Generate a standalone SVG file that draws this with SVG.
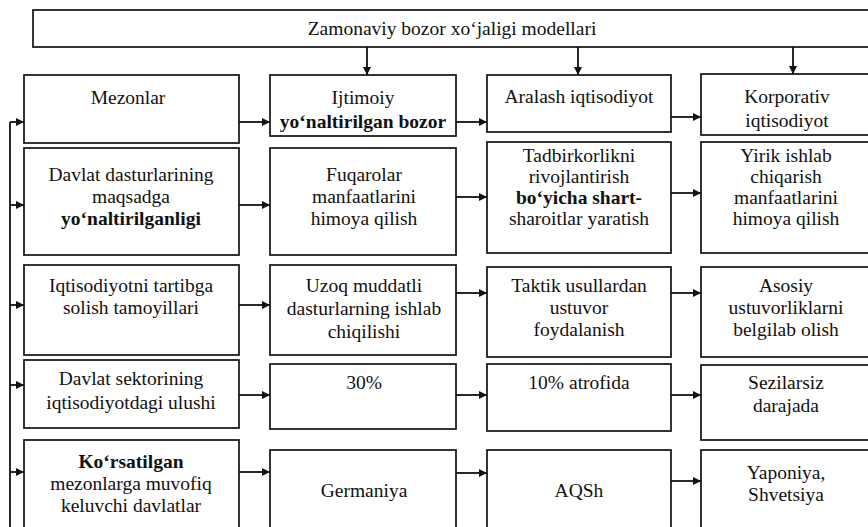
<svg xmlns="http://www.w3.org/2000/svg" width="868" height="527" viewBox="0 0 868 527">
<defs>
<marker id="ah" viewBox="0 0 10 10" refX="10" refY="5" markerWidth="9" markerHeight="8" markerUnits="userSpaceOnUse" orient="auto">
<path d="M0,0 L10,5 L0,10 z" fill="#111"/>
</marker>
<style>
.box{fill:#fff;stroke:#111;stroke-width:1.7}
.t{font-family:"Liberation Serif","Times New Roman",serif;font-size:19.5px;fill:#111;text-anchor:middle}
.b{font-weight:bold}
.c{fill:none;stroke:#111;stroke-width:1.8}
.ca{fill:none;stroke:#111;stroke-width:1.8;marker-end:url(#ah)}
</style>
</defs>
<rect width="868" height="527" fill="#fff"/>

<g id="title"><rect class="box" x="33" y="10" width="840" height="37"/><text class="t" x="452" y="35">Zamonaviy bozor xo‘jaligi modellari</text></g>

<g id="r1c1"><rect class="box" x="24" y="75" width="215" height="68"/><text class="t" x="128" y="104">Mezonlar</text></g>
<g id="r1c2"><rect class="box" x="270" y="75" width="186" height="61"/><text class="t" x="363" y="104">Ijtimoiy</text><text class="t b" x="363" y="128">yo‘naltirilgan bozor</text></g>
<g id="r1c3"><rect class="box" x="487" y="75" width="184" height="57"/><text class="t" x="579" y="103">Aralash iqtisodiyot</text></g>
<g id="r1c4"><rect class="box" x="701" y="74" width="172" height="61"/><text class="t" x="787" y="103">Korporativ</text><text class="t" x="787" y="127">iqtisodiyot</text></g>

<g id="r2c1"><rect class="box" x="24" y="148" width="215" height="107"/><text class="t" x="131" y="181">Davlat dasturlarining</text><text class="t" x="131" y="203">maqsadga</text><text class="t b" x="131" y="225">yo‘naltirilganligi</text></g>
<g id="r2c2"><rect class="box" x="270" y="148" width="186" height="107"/><text class="t" x="364" y="181">Fuqarolar</text><text class="t" x="364" y="203">manfaatlarini</text><text class="t" x="364" y="225">himoya qilish</text></g>
<g id="r2c3"><rect class="box" x="487" y="142" width="184" height="111"/><text class="t" x="579" y="162">Tadbirkorlikni</text><text class="t" x="579" y="183">rivojlantirish</text><text class="t b" x="579" y="204">bo‘yicha shart-</text><text class="t" x="579" y="225">sharoitlar yaratish</text></g>
<g id="r2c4"><rect class="box" x="701" y="142" width="172" height="111"/><text class="t" x="786" y="162">Yirik ishlab</text><text class="t" x="786" y="183">chiqarish</text><text class="t" x="786" y="204">manfaatlarini</text><text class="t" x="786" y="225">himoya qilish</text></g>

<g id="r3c1"><rect class="box" x="24" y="265" width="215" height="90"/><text class="t" x="131" y="292">Iqtisodiyotni tartibga</text><text class="t" x="131" y="314">solish tamoyillari</text></g>
<g id="r3c2"><rect class="box" x="270" y="265" width="186" height="90"/><text class="t" x="364" y="292">Uzoq muddatli</text><text class="t" x="364" y="315">dasturlarning ishlab</text><text class="t" x="364" y="338">chiqilishi</text></g>
<g id="r3c3"><rect class="box" x="487" y="267" width="184" height="90"/><text class="t" x="579" y="292">Taktik usullardan</text><text class="t" x="579" y="314">ustuvor</text><text class="t" x="579" y="336">foydalanish</text></g>
<g id="r3c4"><rect class="box" x="701" y="267" width="172" height="90"/><text class="t" x="786" y="292">Asosiy</text><text class="t" x="786" y="314">ustuvorliklarni</text><text class="t" x="786" y="336">belgilab olish</text></g>

<g id="r4c1"><rect class="box" x="24" y="360" width="215" height="68"/><text class="t" x="131" y="385">Davlat sektorining</text><text class="t" x="131" y="409">iqtisodiyotdagi ulushi</text></g>
<g id="r4c2"><rect class="box" x="270" y="364" width="186" height="65"/><text class="t" x="364" y="389">30%</text></g>
<g id="r4c3"><rect class="box" x="487" y="364" width="184" height="67"/><text class="t" x="579" y="389">10% atrofida</text></g>
<g id="r4c4"><rect class="box" x="701" y="365" width="172" height="75"/><text class="t" x="786" y="389">Sezilarsiz</text><text class="t" x="786" y="412">darajada</text></g>

<g id="r5c1"><rect class="box" x="24" y="440" width="215" height="95"/><text class="t b" x="131" y="468">Ko‘rsatilgan</text><text class="t" x="131" y="490">mezonlarga muvofiq</text><text class="t" x="131" y="512">keluvchi davlatlar</text></g>
<g id="r5c2"><rect class="box" x="270" y="450" width="186" height="85"/><text class="t" x="364" y="497">Germaniya</text></g>
<g id="r5c3"><rect class="box" x="487" y="450" width="184" height="85"/><text class="t" x="579" y="497">AQSh</text></g>
<g id="r5c4"><rect class="box" x="701" y="450" width="172" height="85"/><text class="t" x="786" y="479">Yaponiya,</text><text class="t" x="786" y="501">Shvetsiya</text></g>

<g id="connectors">
<path class="ca" d="M367,47 V75"/>
<path class="ca" d="M578,47 V75"/>
<path class="ca" d="M793,47 V74"/>

<path class="c" d="M10,530 V122"/>
<path class="ca" d="M10,122 H24"/>
<path class="ca" d="M10,205 H24"/>
<path class="ca" d="M10,305 H24"/>
<path class="ca" d="M10,385 H24"/>
<path class="ca" d="M10,472 H24"/>

<path class="ca" d="M239,122 H270"/>
<path class="ca" d="M456,122 H487"/>
<path class="ca" d="M671,117 H701"/>

<path class="ca" d="M239,205 H270"/>
<path class="ca" d="M456,197 H487"/>
<path class="ca" d="M671,193 H701"/>

<path class="ca" d="M239,305 H270"/>
<path class="ca" d="M456,293 H487"/>
<path class="ca" d="M671,293 H701"/>

<path class="ca" d="M239,395 H270"/>
<path class="ca" d="M456,395 H487"/>
<path class="ca" d="M671,395 H701"/>

<path class="ca" d="M239,472 H270"/>
<path class="ca" d="M456,473 H487"/>
<path class="ca" d="M671,481 H701"/>
</g>
</svg>
